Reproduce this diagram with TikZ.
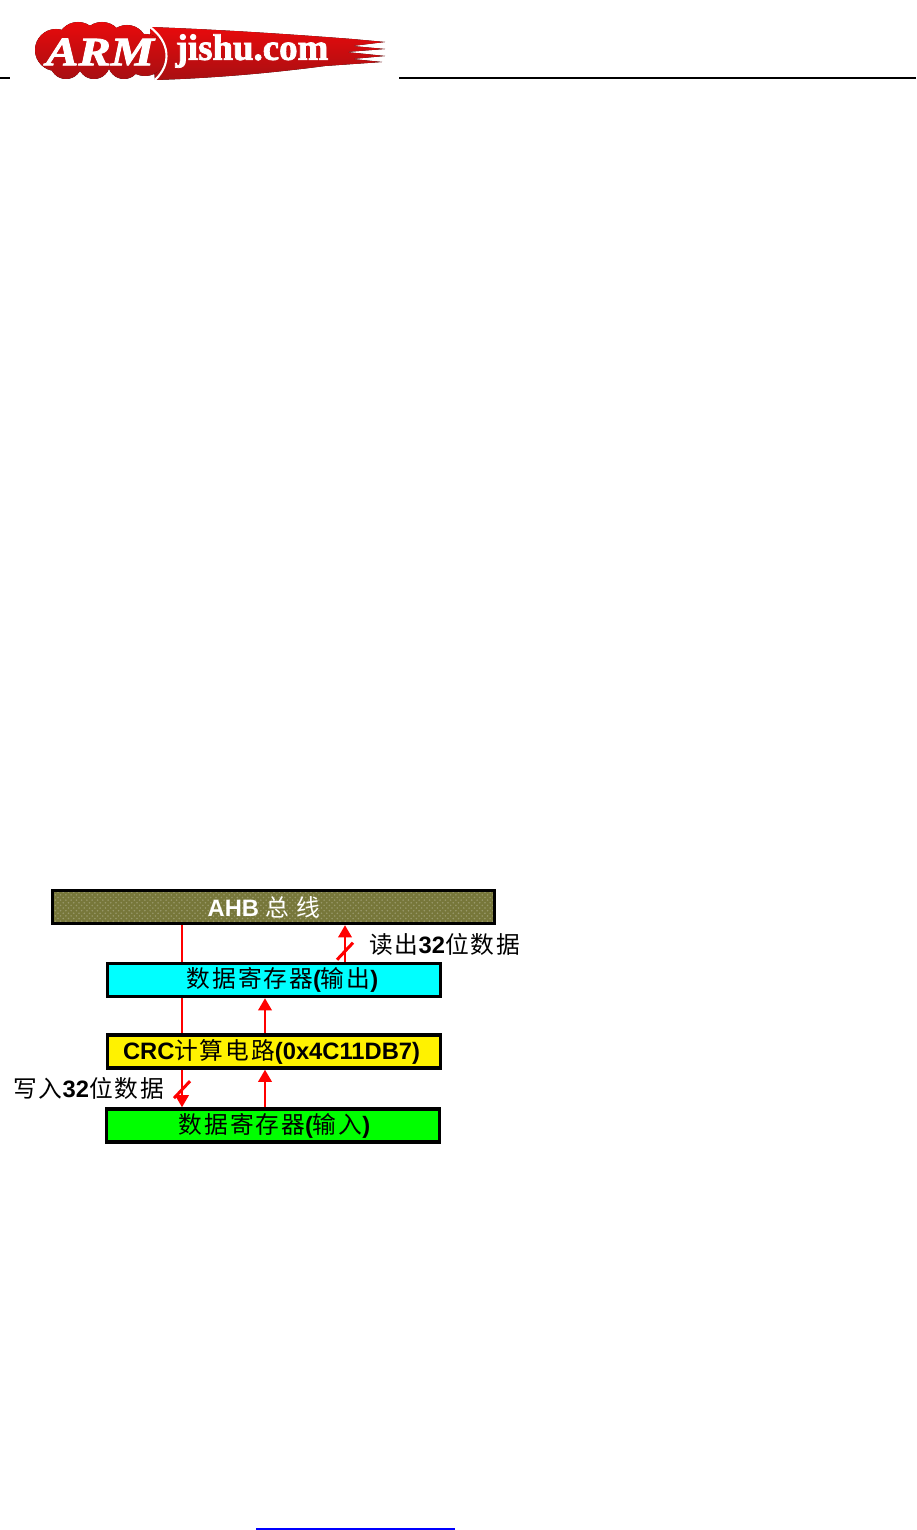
\documentclass[tikz,border=0pt]{standalone}
\usepackage{fontspec}
\setmainfont{Liberation Sans}
\newfontfamily\cjk[LetterSpace=8, BoldFont={Noto Sans CJK SC}]{Noto Sans CJK SC}
\newfontfamily\logofont[FakeBold=2]{Liberation Serif}
\usetikzlibrary{arrows.meta, positioning, calc, patterns}
\definecolor{busolive}{HTML}{77773A}
\definecolor{regcyan}{HTML}{00FFFF}
\definecolor{logored}{HTML}{E80A0C}
\definecolor{logodark}{HTML}{A80F12}
\definecolor{sigred}{HTML}{FF0000}

\begin{document}
\begin{tikzpicture}[
  x=0.02cm, y=0.02cm,
  regbox/.style={draw=black, line width=3.2pt*0.569, minimum height=1cm*0.02*33, inner sep=0pt, font=\bfseries\fontsize{13.5}{14}\selectfont},
  lbl/.style={font=\bfseries\fontsize{13.5}{14}\selectfont, inner sep=0pt},
  sig/.style={draw=sigred, line width=1.7pt},
  sigarrow/.style={sig, -{Triangle[length=7pt, width=7.5pt]}},
  rule/.style={line width=0.9pt}
]
  \useasboundingbox (0,0) rectangle (916,-1530);
  \fill[white] (0,0) rectangle (916,-1530);

  % HEADER
  \draw[rule] (0,-78) -- (10,-78);
  \draw[rule] (399,-78) -- (916,-78);

  % LOGO
  \fill[top color=logored, bottom color=logodark] (150,-27) .. controls (230,-30) and (300,-35) .. (352,-39)
    -- (385,-42) -- (352,-46) -- (385,-49) -- (346,-52) -- (385,-56) -- (352,-59) -- (382,-62) -- (325,-66)
    .. controls (280,-72) and (220,-78) .. (155,-80) -- cycle;
  \fill[top color=logored, bottom color=logodark] (56,-50) circle (21) (78,-43) circle (21) (102,-43) circle (21)
    (127,-45) circle (20) (145,-55) circle (21) (124,-63) circle (16) (94,-63) circle (16) (66,-63) circle (16);
  \draw[white, line width=1.2pt] (150,-27) .. controls (170,-42) and (172,-64) .. (155,-80);
  \node[text=white, inner sep=0pt, transform shape, xscale=1.2, font=\logofont\bfseries\itshape\fontsize{23}{23}\selectfont] (armtext) at (100,-52) {ARM};
  \node[text=white, inner sep=0pt, font=\logofont\bfseries\fontsize{21}{22}\selectfont] (jishutext) at (252,-51) {jishu.com};

  % BOXES
  \node[regbox, preaction={fill=busolive}, pattern=crosshatch dots, pattern color=busolive!75!white, minimum width=0.02cm*442, text=white] (ahb) at (273.5,-907) {AHB {\cjk 总 线}\kern0.38cm};
  \node[regbox, fill=regcyan, minimum width=0.02cm*333] (outreg) at (274,-980) {\hspace{0.34cm}{\cjk 数据寄存器}({\cjk 输出})};
  \node[regbox, fill=yellow, minimum width=0.02cm*333] (crc) at (274,-1051.5) {CRC{\cjk 计算电路}(0x4C11DB7)\kern0.1cm};
  \node[regbox, fill=green, minimum width=0.02cm*333] (inreg) at (273,-1125.5) {\hspace{0.06cm}{\cjk 数据寄存器}({\cjk 输入})};

  % LANES
  \coordinate (wlane) at (182,0);
  \coordinate (clane) at (265,0);
  \coordinate (rlane) at (345,0);

  % WRITE SIDE
  \draw[sig] (ahb.south -| wlane) -- (outreg.north -| wlane);
  \draw[sig] (outreg.south -| wlane) -- (crc.north -| wlane);
  \draw[sigarrow] (crc.south -| wlane) -- (inreg.north -| wlane) coordinate[pos=0.53] (wslash);
  \draw[sig] ($(wslash)+(-8,-8.5)$) -- ($(wslash)+(8,8.5)$);
  \node[lbl, anchor=west] (wlabel) at (13,-1088) {{\cjk 写入}32{\cjk 位数据}};

  % READ SIDE
  \draw[sigarrow] (inreg.north -| clane) -- (crc.south -| clane);
  \draw[sigarrow] (crc.north -| clane) -- (outreg.south -| clane);
  \draw[sigarrow] (outreg.north -| rlane) -- (ahb.south -| rlane) coordinate[pos=0.29] (rslash);
  \draw[sig] ($(rslash)+(-8,-8.5)$) -- ($(rslash)+(8,8.5)$);
  \node[lbl, anchor=west] (rlabel) at (369,-944) {{\cjk 读出}32{\cjk 位数据}};

  % FOOTER
  \draw[draw=blue, line width=1pt] (256,-1529) -- (455,-1529);
\end{tikzpicture}
\end{document}
